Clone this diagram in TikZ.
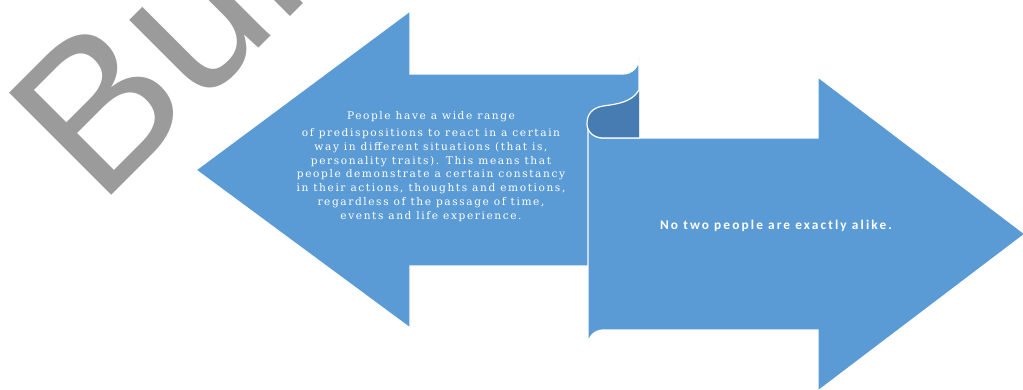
\documentclass[tikz,border=0pt]{standalone}
\usepackage{fontspec}
\newfontfamily\bodyfont{DejaVu Serif}[LetterSpace=15]
\newfontfamily\boldsans{Carlito}[LetterSpace=16]
\newfontfamily\wmfont{Liberation Sans}
\definecolor{lightblue}{RGB}{91,155,213}
\definecolor{darkblue}{RGB}{70,124,178}
\definecolor{wmgray}{RGB}{155,155,155}
\tikzset{
  arrowshape/.style={fill=lightblue, draw=white, line width=1.2pt, line join=miter},
  curlshape/.style={fill=darkblue},
  curlline/.style={draw=white, line width=1.2pt},
  bodytext/.style={text=white, align=center, inner sep=0pt, font=\bodyfont\fontsize{10.6}{13.7}\selectfont},
  righttext/.style={text=white, inner sep=0pt, font=\boldsans\bfseries\fontsize{13.3}{15}\selectfont},
}
\begin{document}
\begin{tikzpicture}[x=1pt,y=-1pt]
\useasboundingbox (0,0) rectangle (1023,389);
% watermark
\node[anchor=base west, inner sep=0pt, rotate=45, text=wmgray,
      font=\wmfont\fontsize{210}{210}\selectfont] (wm) at (99,208) {Bui};
% left arrow
\path[arrowshape] (196,170) -- (410,11) -- (410,74) -- (623,74)
   arc[start angle=90, end angle=0, radius=16] -- (639,266) -- (410,266)
   -- (410,328) -- cycle;
% right arrow
\path[arrowshape] (588,124) .. controls (588,132) and (594,138) .. (603,138)
   -- (818,138) -- (818,77) -- (1025,234) -- (818,391) -- (818,330)
   -- (603,330) arc[start angle=270, end angle=180, radius=15] -- cycle;
% curl
\path[curlshape] (639,90) .. controls (632,102) and (618,104) .. (603,106)
   .. controls (592,108) and (587,114) .. (587,124)
   .. controls (587,132) and (594,138) .. (603,138) -- (639,138) -- cycle;
\path[curlline] (639,90) .. controls (632,102) and (618,104) .. (603,106)
   .. controls (592,108) and (587,114) .. (587,124)
   .. controls (587,132) and (594,138) .. (603,138) -- (640,138);
% texts
\node[bodytext] (t1) at (431,117) {People have a wide range};
\node[bodytext] (t2) at (431,175) {of predispositions to react in a certain\\
way in different situations (that is,\\
personality traits). This means that\\
people demonstrate a certain constancy\\
in their actions, thoughts and emotions,\\
regardless of the passage of time,\\
events and life experience.};
\node[righttext] (t3) at (776,226) {No two people are exactly alike.};
\end{tikzpicture}
\end{document}
